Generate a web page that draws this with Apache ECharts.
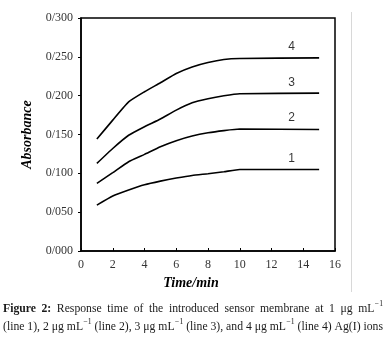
<!DOCTYPE html>
<html>
<head>
<meta charset="utf-8">
<script src="https://cdn.jsdelivr.net/npm/echarts@6/dist/echarts.min.js"></script>
<style>html,body{margin:0;padding:0;background:#fff}#c{width:392px;height:348px}</style>
</head>
<body>
<div id="c"></div>
<script>
// ---- data ----
const times = [1, 2, 3, 4, 5, 6, 7, 8, 9, 10, 15];
const line1 = [0.059, 0.0707, 0.0785, 0.0853, 0.090, 0.0939, 0.0973, 0.0995, 0.102, 0.105, 0.105];
const line2 = [0.087, 0.1008, 0.115, 0.1244, 0.1342, 0.142, 0.148, 0.1522, 0.155, 0.157, 0.1565];
const line3 = [0.1128, 0.132, 0.149, 0.160, 0.170, 0.1814, 0.1908, 0.196, 0.1998, 0.2024, 0.2033];
const line4 = [0.1441, 0.1685, 0.192, 0.205, 0.2166, 0.2286, 0.237, 0.2427, 0.2466, 0.2479, 0.2487];
const lineNames = ['1', '2', '3', '4'];
const lineLabelX = 13.27;
const lineLabelY = [0.1194, 0.1721, 0.2167, 0.263];
const yTickLabels = ['0/000', '0/050', '0/100', '0/150', '0/200', '0/250', '0/300'];
const xTickLabels = ['0', '2', '4', '6', '8', '10', '12', '14', '16'];
const xTitle = 'Time/min';
const yTitle = 'Absorbance';
const captionLines = [
  '**Figure **2:** Response time of the introduced sensor membrane at 1 μg mL^−1',
  '(line 1), 2 μg mL^−1 (line 2), 3 μg mL^−1 (line 3), and 4 μg mL^−1 (line 4) Ag(I) ions'
];

// ---- chart ----
const chart = echarts.init(document.getElementById('c'), null, {renderer: 'canvas', devicePixelRatio: 1});
const serif = '"Liberation Serif", "Times New Roman", serif';
const allLines = [line1, line2, line3, line4];

const series = allLines.map(function (arr) {
  return {
    type: 'line',
    data: times.map(function (t, i) { return [t, arr[i]]; }),
    showSymbol: false,
    symbol: 'none',
    lineStyle: {color: '#000', width: 1.6},
    smooth: 0.15,
    silent: true
  };
});
series.push({
  type: 'scatter',
  symbolSize: 0,
  silent: true,
  data: lineNames.map(function (n, i) { return {value: [lineLabelX, lineLabelY[i]], name: n}; }),
  label: {
    show: true, position: 'inside', formatter: '{b}',
    fontFamily: '"Liberation Sans", Arial, sans-serif', fontSize: 12, color: '#000'
  }
});

// caption layout (justified words, slightly condensed font)
const measureCtx = document.createElement('canvas').getContext('2d');
function mw(text, size, bold) {
  measureCtx.font = (bold ? 'bold ' : '') + size + 'px ' + serif;
  return measureCtx.measureText(text).width;
}
const capSize = 13, supSize = 8.5, capLeft = 3, capRight = 383;
const capY = [308.5, 326.5];
const graphics = [{
  type: 'line', silent: true,
  shape: {x1: 351.5, y1: 12, x2: 351.5, y2: 292},
  style: {stroke: '#d8d8d8', lineWidth: 1}
}];
function parseLine(line) {
  let bold = false;
  return line.split(' ').map(function (w) {
    let b = bold;
    if (w.indexOf('**') === 0) { b = true; w = w.replace(/\*\*/g, ''); bold = true; }
    if (w === '2:') { b = true; bold = false; }
    const parts = w.split('^');
    const main = parts[0], sup = parts[1] || '';
    const wMain = mw(main, capSize, b);
    const wSup = sup ? mw(sup, supSize, false) + 0.5 : 0;
    return {main: main, sup: sup, bold: b, wMain: wMain, width: wMain + wSup};
  });
}
const parsed = captionLines.map(parseLine);
const spaceW = mw(' ', capSize, false);
const natural2 = parsed[1].reduce(function (s, w) { return s + w.width; }, 0) + spaceW * (parsed[1].length - 1);
const sx = Math.min(1, (capRight - capLeft) / natural2);
parsed.forEach(function (words, li) {
  const total = words.reduce(function (s, w) { return s + w.width * sx; }, 0);
  const gap = (capRight - capLeft - total) / (words.length - 1);
  let x = capLeft;
  words.forEach(function (w) {
    graphics.push({
      type: 'text', silent: true, x: x, y: capY[li], scaleX: sx,
      style: {text: w.main, font: (w.bold ? 'bold ' : '') + capSize + 'px ' + serif,
        fill: '#1a1a1a', verticalAlign: 'middle', align: 'left'}
    });
    if (w.sup) {
      graphics.push({
        type: 'text', silent: true, x: x + (w.wMain + 0.5) * sx, y: capY[li] - 4.5, scaleX: sx,
        style: {text: w.sup, font: supSize + 'px ' + serif,
          fill: '#1a1a1a', verticalAlign: 'middle', align: 'left'}
      });
    }
    x += w.width * sx + gap;
  });
});

const option = {
  animation: false,
  backgroundColor: '#fff',
  grid: {left: 81, right: 57, top: 18, bottom: 97, show: true, borderColor: '#000', borderWidth: 1.5,
    outerBoundsMode: 'none', containLabel: false},
  xAxis: {
    type: 'value', min: 0, max: 16, interval: 2,
    name: xTitle, nameLocation: 'middle', nameGap: 24,
    nameTextStyle: {fontFamily: serif, fontSize: 14, fontWeight: 'bold', fontStyle: 'italic', color: '#000',
      padding: [0, 34, 0, 0]},
    axisLine: {show: true, lineStyle: {color: '#000', width: 1.5}},
    axisTick: {show: true, inside: true, length: 3, lineStyle: {color: '#000', width: 1}},
    axisLabel: {margin: 8, fontFamily: serif, fontSize: 12, color: '#333',
      formatter: function (v) { return xTickLabels[Math.round(v / 2)]; }},
    splitLine: {show: false}
  },
  yAxis: {
    type: 'value', min: 0, max: 0.3, interval: 0.05,
    name: yTitle, nameLocation: 'middle', nameGap: 35, nameRotate: 90,
    nameTextStyle: {fontFamily: serif, fontSize: 14, fontWeight: 'bold', fontStyle: 'italic', color: '#000'},
    axisLine: {show: true, lineStyle: {color: '#000', width: 1.5}},
    axisTick: {show: true, inside: false, length: 3, lineStyle: {color: '#000', width: 1}},
    axisLabel: {margin: 8, fontFamily: serif, fontSize: 12, color: '#333',
      formatter: function (v) { return yTickLabels[Math.round(v / 0.05)]; }},
    splitLine: {show: false}
  },
  series: series,
  graphic: graphics
};
chart.setOption(option);
</script>
</body>
</html>
